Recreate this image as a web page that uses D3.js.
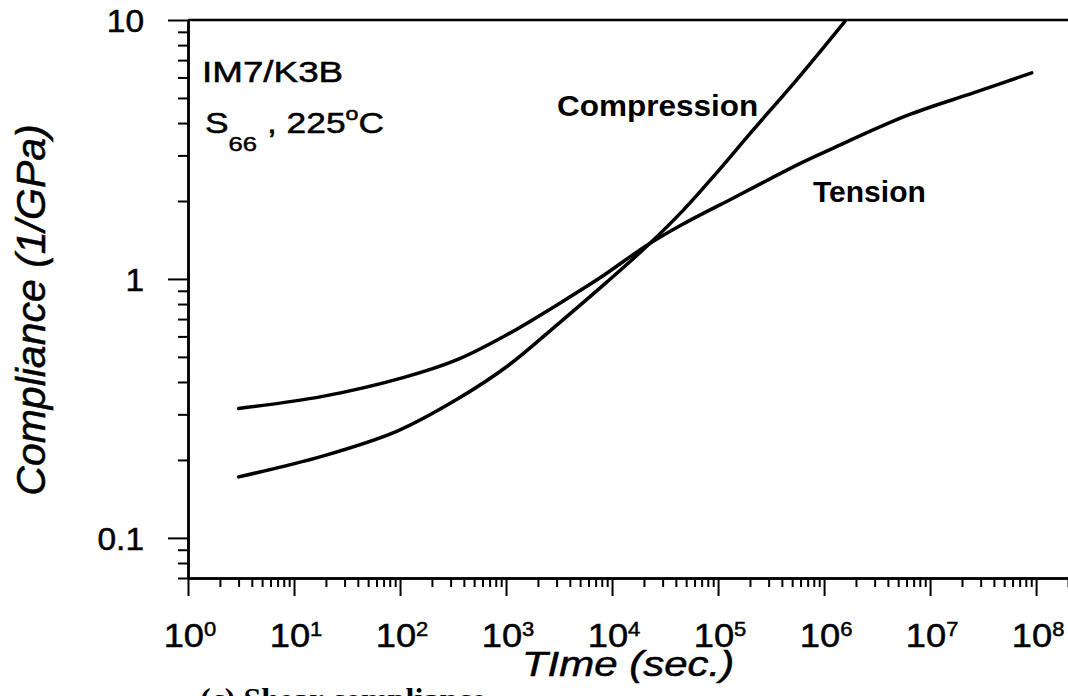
<!DOCTYPE html>
<html>
<head>
<meta charset="utf-8">
<script src="https://cdn.jsdelivr.net/npm/d3@7"></script>
<style>
  body { margin: 0; background: #fff; }
  svg { display: block; }
  text { font-family: Arial, "Liberation Sans", Helvetica, sans-serif; fill: #000; }
  .ink { stroke: #000; stroke-width: 0.5px; }
</style>
</head>
<body>
<div class="chart"></div>
<script>
// values (time in sec., compliance in 1/GPa)
var tensionTime = [3, 18.6, 107, 347, 1020, 3030, 7700, 21400, 46800, 138000, 289000, 590000, 1.14e6, 6.0e6, 2.6e7, 9.1e7];
var tensionCompliance = [0.316, 0.352, 0.416, 0.488, 0.609, 0.794, 1.01, 1.35, 1.63, 2.05, 2.40, 2.79, 3.16, 4.27, 5.24, 6.25];

var compressionTime = [3, 18.6, 93, 345, 1020, 3030, 8970, 21400, 46800, 97900, 200000, 594000, 1.58e6];
var compressionCompliance = [0.172, 0.207, 0.258, 0.343, 0.459, 0.665, 0.974, 1.34, 1.84, 2.58, 3.64, 6.09, 9.9];

var xTickExponents = [0, 1, 2, 3, 4, 5, 6, 7, 8];
var yTickValues = [0.1, 1, 10];
var yTickLabels = ["0.1", "1", "10"];

var svgWidth = 1068;
var svgHeight = 696;
var margin = { top: 20, right: 0, bottom: 118, left: 188 };
var width = svgWidth - margin.left - margin.right;
var height = svgHeight - margin.top - margin.bottom;

var svg = d3.select(".chart")
    .append("svg")
    .attr("width", svgWidth)
    .attr("height", svgHeight);

var chart = svg.append("g")
    .attr("transform", "translate(" + margin.left + "," + margin.top + ")");

var xLogScale = d3.scaleLog().domain([1, 2e8]).range([0, width]);
var yLogScale = d3.scaleLog().domain([0.07, 10]).range([height, 0]);

chart.append("clipPath")
    .attr("id", "plot-clip")
    .append("rect")
    .attr("x", 0)
    .attr("y", 0)
    .attr("width", width)
    .attr("height", height);

// minor ticks: everything the log scale gives that is not a decade
var isDecade = function(v) {
    return Math.abs(Math.log10(v) - Math.round(Math.log10(v))) < 1e-6;
};
var xMinor = xLogScale.ticks().filter(function(v) { return !isDecade(v); });
var yMinor = yLogScale.ticks().filter(function(v) { return !isDecade(v); });
var xMajor = xTickExponents.map(function(e) { return Math.pow(10, e); });

function styleAxis(g) {
    g.select(".domain").attr("stroke", "#000").attr("stroke-width", 2.5);
    g.selectAll(".tick line").attr("stroke", "#000").attr("stroke-width", 2);
    g.selectAll(".tick text").remove();
}

chart.append("g")
    .attr("class", "x-axis-minor")
    .attr("transform", "translate(0," + height + ")")
    .call(d3.axisBottom(xLogScale).tickValues(xMinor).tickSize(9).tickSizeOuter(0).tickFormat(""))
    .call(styleAxis);

chart.append("g")
    .attr("class", "x-axis")
    .attr("transform", "translate(0," + height + ")")
    .call(d3.axisBottom(xLogScale).tickValues(xMajor).tickSize(18).tickSizeOuter(0).tickFormat(""))
    .call(styleAxis);

chart.append("g")
    .attr("class", "y-axis-minor")
    .call(d3.axisLeft(yLogScale).tickValues(yMinor).tickSize(10).tickSizeOuter(0).tickFormat(""))
    .call(styleAxis);

chart.append("g")
    .attr("class", "y-axis")
    .call(d3.axisLeft(yLogScale).tickValues(yTickValues).tickSize(20).tickSizeOuter(0).tickFormat(""))
    .call(styleAxis);

// top frame line
chart.append("line")
    .attr("x1", 0)
    .attr("x2", width)
    .attr("y1", 0)
    .attr("y2", 0)
    .attr("stroke", "#000")
    .attr("stroke-width", 2.5);

// x tick labels: 10 with superscript exponent
var xLabels = chart.selectAll(".x-label")
    .data(xTickExponents)
    .enter()
    .append("text")
    .attr("class", "x-label ink")
    .attr("text-anchor", "middle")
    .attr("transform", function(e) {
        return "translate(" + (xLogScale(Math.pow(10, e)) + 2) + "," + (height + 69) + ") scale(1.1,1)";
    })
    .style("font-size", "33px");

xLabels.append("tspan").text("10");
xLabels.append("tspan")
    .attr("dy", -11)
    .style("font-size", "20px")
    .text(function(e) { return e; });

chart.selectAll(".y-label")
    .data(yTickValues)
    .enter()
    .append("text")
    .attr("class", "y-label ink")
    .attr("text-anchor", "end")
    .attr("transform", function(v) {
        return "translate(-44," + (yLogScale(v) + 12) + ") scale(1.08,1)";
    })
    .style("font-size", "31px")
    .text(function(v, i) { return yTickLabels[i]; });

// curves
var line = d3.line()
    .x(function(d) { return xLogScale(d[0]); })
    .y(function(d) { return yLogScale(d[1]); })
    .curve(d3.curveCatmullRom.alpha(0.5));

var curves = [
    d3.zip(tensionTime, tensionCompliance),
    d3.zip(compressionTime, compressionCompliance)
];

chart.append("g")
    .attr("clip-path", "url(#plot-clip)")
    .selectAll("path")
    .data(curves)
    .enter()
    .append("path")
    .attr("d", line)
    .attr("fill", "none")
    .attr("stroke", "#000")
    .attr("stroke-width", 3.5)
    .attr("stroke-linecap", "round");

// annotations (page coordinates)
svg.append("text")
    .attr("class", "ink")
    .attr("transform", "translate(202,82) scale(1.27,1)")
    .style("font-size", "29px")
    .text("IM7/K3B");

var s66 = svg.append("text")
    .attr("class", "ink")
    .attr("transform", "translate(205,133) scale(1.22,1)")
    .style("font-size", "29px");
s66.append("tspan").text("S");
s66.append("tspan").attr("dy", 18).style("font-size", "21px").text("66");
s66.append("tspan").attr("dy", -18).text(" , 225");
s66.append("tspan").attr("dy", -13).style("font-size", "19px").text("o");
s66.append("tspan").attr("dy", 13).text("C");

svg.append("text")
    .attr("transform", "translate(557,116) scale(1.05,1)")
    .style("font-size", "30px")
    .style("font-weight", "bold")
    .text("Compression");

svg.append("text")
    .attr("x", 813)
    .attr("y", 202)
    .style("font-size", "30px")
    .style("font-weight", "bold")
    .text("Tension");

// axis titles
svg.append("text")
    .attr("class", "ink")
    .attr("transform", "translate(45,310) rotate(-90)")
    .attr("text-anchor", "middle")
    .style("font-size", "41px")
    .style("font-style", "italic")
    .text("Compliance (1/GPa)");

svg.append("text")
    .attr("class", "ink")
    .attr("transform", "translate(628,676) scale(1.2,1)")
    .attr("text-anchor", "middle")
    .style("font-size", "35px")
    .style("font-style", "italic")
    .text("TIme (sec.)");

// cut-off caption at the bottom edge
svg.append("text")
    .attr("x", 200)
    .attr("y", 710)
    .style("font-family", "'Liberation Serif', 'Times New Roman', serif")
    .style("font-size", "32px")
    .style("font-weight", "bold")
    .text("(c) Shear compliance");
</script>
</body>
</html>
